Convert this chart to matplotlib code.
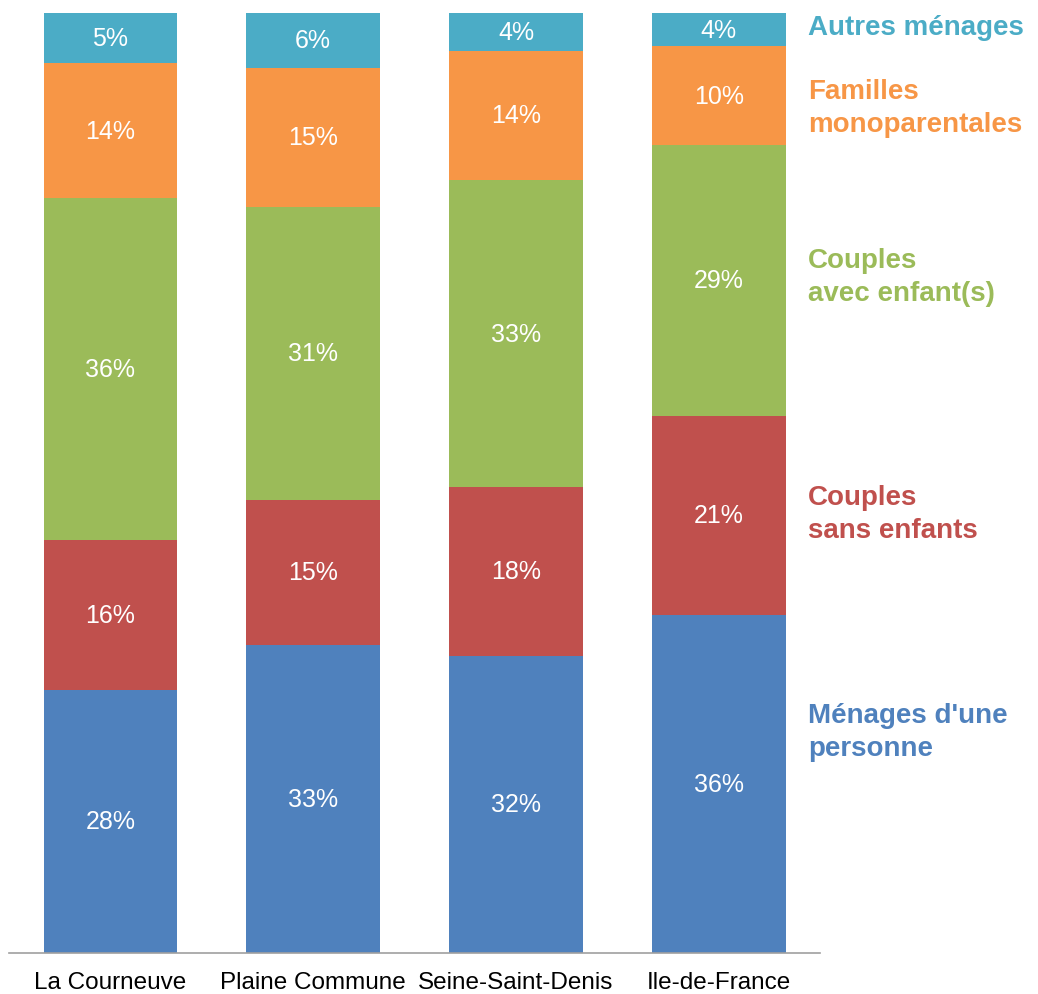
#!/usr/bin/env python3
# Structure des ménages: stacked 100% bars with labels on the right.

import matplotlib.pyplot as plt
import numpy as np

plt.rcParams["font.family"] = ["Liberation Sans", "DejaVu Sans"]

territoires = ["La Courneuve", "Plaine Commune", "Seine-Saint-Denis", "Ile-de-France"]
categories = [
    "Ménages d'une\npersonne",
    "Couples\nsans enfants",
    "Couples\navec enfant(s)",
    "Familles\nmonoparentales",
    "Autres ménages",
]
# shares (%) per category, one value per territory
menages_une_personne = [28.0, 32.8, 31.6, 36.0]
couples_sans_enfants = [15.9, 15.4, 18.0, 21.1]
couples_avec_enfants = [36.4, 31.2, 32.6, 28.9]
familles_monoparentales = [14.4, 14.8, 13.8, 10.45]
autres_menages = [5.3, 5.8, 4.0, 3.55]

series = [
    menages_une_personne,
    couples_sans_enfants,
    couples_avec_enfants,
    familles_monoparentales,
    autres_menages,
]
colors = ["#4F81BD", "#C0504D", "#9BBB59", "#F79646", "#4BACC6"]
# vertical position (in %) of each category label on the right
label_y = [23.6, 46.8, 72.0, 90.0, 98.5]

fig = plt.figure(figsize=(10.38, 9.95), dpi=100)
ax = fig.add_axes([0.0087, 0.0412, 0.7815, 0.9447])

x = np.arange(len(territoires))
bottom = np.zeros(len(territoires))
for vals, c in zip(series, colors):
    vals = np.array(vals)
    ax.bar(x, vals, bottom=bottom, width=0.66, color=c, edgecolor="none")
    for xi, b, v in zip(x, bottom, vals):
        ax.text(xi, b + v / 2, f"{v:.0f}%", ha="center", va="center",
                color="white", fontsize=18)
    bottom += vals

for name, c, y in zip(categories, colors, label_y):
    ax.text(3.44, y, name, ha="left", va="center", color=c, fontsize=20,
            fontweight="bold", linespacing=1.35, clip_on=False)

ax.set_xlim(-0.5, 3.5)
ax.set_ylim(0, 100)
ax.set_xticks(x)
ax.set_xticklabels(territoires, fontsize=17.5)
ax.tick_params(axis="x", length=0, pad=13)
ax.set_yticks([])
for s in ["top", "right", "left"]:
    ax.spines[s].set_visible(False)
ax.spines["bottom"].set_color("#A0A0A0")
ax.spines["bottom"].set_linewidth(1.2)

fig.savefig("out.png", dpi=100)
